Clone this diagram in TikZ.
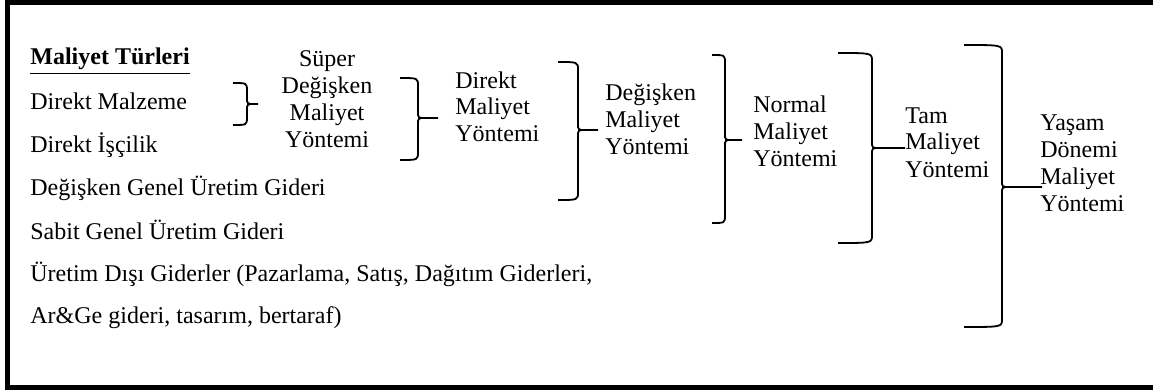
\documentclass[tikz,border=0pt]{standalone}
\usepackage{fontspec}
\setmainfont{Liberation Serif}

\newcommand{\parantez}[6]{%
  \draw[line width=0.9pt] (#1,#4) .. controls (#2,#4) .. (#2,#4+8) -- (#2,#5-6) .. controls (#2,#5) .. (#2+8,#5) -- (#3,#5);
  \draw[line width=0.9pt] (#2+8,#5) .. controls (#2,#5) .. (#2,#5+6) -- (#2,#6-8) .. controls (#2,#6) .. (#1,#6);
}

\tikzset{
  liste/.style={anchor=base west, inner sep=0pt, font=\fontsize{12}{14}\selectfont},
  yontem/.style={anchor=base west, align=left, inner sep=0pt, font=\fontsize{12}{13.5}\selectfont}
}

\begin{document}
\begin{tikzpicture}[x=0.5pt,y=-0.5pt]
    \useasboundingbox (0,0) rectangle (1153,390);
    \draw[line width=2.5pt] (1160,2.5) -- (7.5,2.5) -- (7.5,387.5) -- (1160,387.5);

    \node[liste] (baslik) at (30,65) {\textbf{\underline{Maliyet Türleri}}};
    \node[liste] (malzeme) at (30,110) {Direkt Malzeme};
    \node[liste] (iscilik) at (30,153) {Direkt İşçilik};
    \node[liste] (degisken) at (30,196) {Değişken Genel Üretim Gideri};
    \node[liste] (sabit) at (30,240) {Sabit Genel Üretim Gideri};
    \node[liste] (uretimdisi) at (30,282) {Üretim Dışı Giderler (Pazarlama, Satış, Dağıtım Giderleri,};
    \node[liste] (arge) at (30,323) {Ar\&Ge gideri, tasarım, bertaraf)};

    \node[yontem, align=center, anchor=base] (super) at (327,148) {Süper\\Değişken\\Maliyet\\Yöntemi};
    \node[yontem] (direkt) at (455,142) {Direkt\\Maliyet\\Yöntemi};
    \node[yontem] (degiskenm) at (605,155) {Değişken\\Maliyet\\Yöntemi};
    \node[yontem] (normal) at (753,167) {Normal\\Maliyet\\Yöntemi};
    \node[yontem] (tam) at (905,177) {Tam\\Maliyet\\Yöntemi};
    \node[yontem] (yasam) at (1040,212) {Yaşam\\Dönemi\\Maliyet\\Yöntemi};

    \parantez{233}{247}{258}{83}{104}{125}
    \parantez{400}{418}{438}{78}{118}{160}
    \parantez{558}{578}{598}{62}{130}{200}
    \parantez{712}{725}{742}{55}{140}{223}
    \parantez{838}{872}{905}{53}{148}{243}
    \parantez{964}{1002}{1042}{45}{187}{327}
\end{tikzpicture}
\end{document}
